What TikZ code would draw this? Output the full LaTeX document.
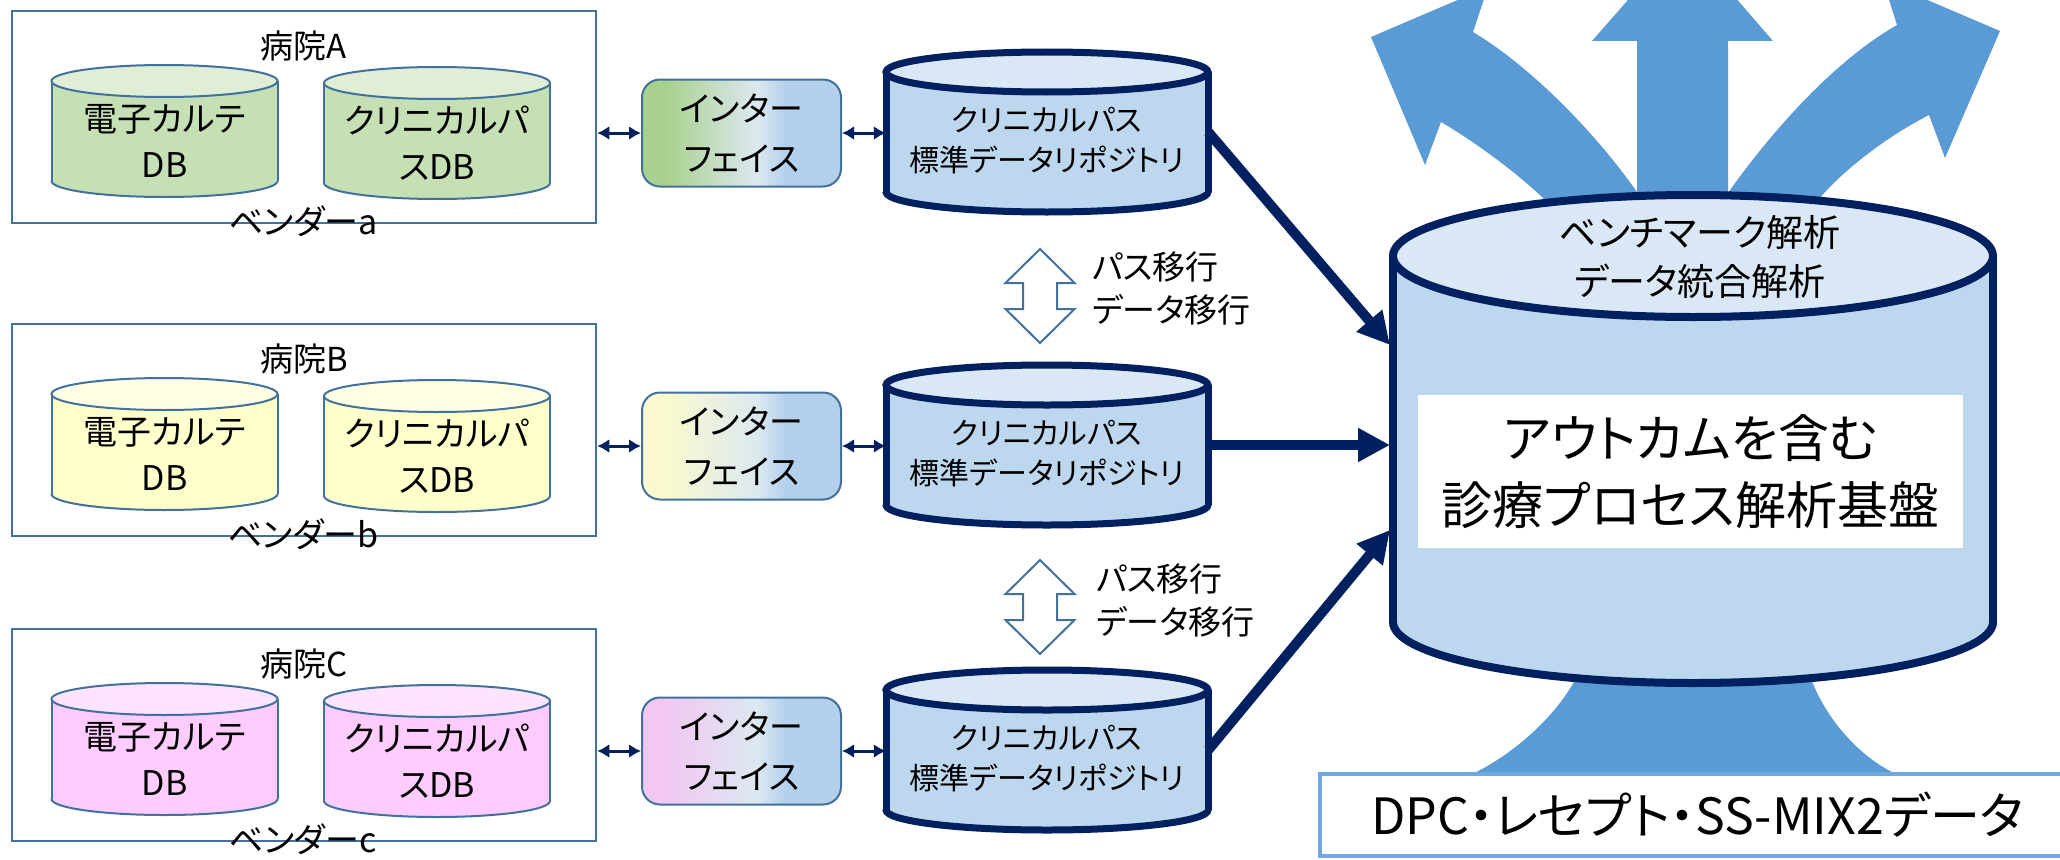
\documentclass[tikz,border=0pt]{standalone}
\usepackage{fontspec}
\setmainfont{Noto Sans CJK JP}[RawFeature=+palt]
\usetikzlibrary{arrows.meta}

\definecolor{thinline}{RGB}{65,113,156}
\definecolor{navy}{RGB}{0,32,96}
\definecolor{flowblue}{RGB}{91,155,213}
\definecolor{dpcline}{RGB}{110,168,222}
\definecolor{repobody}{RGB}{189,215,238}
\definecolor{repotop}{RGB}{218,232,246}
\definecolor{greenbody}{RGB}{197,224,180}
\definecolor{greentop}{RGB}{224,238,214}
\definecolor{yellowbody}{RGB}{255,255,204}
\definecolor{yellowtop}{RGB}{255,255,228}
\definecolor{pinkbody}{RGB}{255,204,255}
\definecolor{pinktop}{RGB}{255,228,255}
\definecolor{ifgreen}{RGB}{169,209,142}
\definecolor{ifyellow}{RGB}{250,250,206}
\definecolor{ifpink}{RGB}{242,200,242}
\definecolor{ifmid}{RGB}{220,232,240}
\definecolor{ifblue}{RGB}{180,208,236}

% interface boxes: vendor colour on the left fading into the repository blue
\pgfdeclarehorizontalshading{ifaceA}{100bp}{color(0bp)=(ifgreen); color(25bp)=(ifgreen); color(31bp)=(ifgreen); color(54bp)=(ifmid); color(61bp)=(ifblue); color(100bp)=(ifblue)}
\pgfdeclarehorizontalshading{ifaceB}{100bp}{color(0bp)=(ifyellow); color(25bp)=(ifyellow); color(31bp)=(ifyellow); color(54bp)=(ifmid); color(61bp)=(ifblue); color(100bp)=(ifblue)}
\pgfdeclarehorizontalshading{ifaceC}{100bp}{color(0bp)=(ifpink); color(25bp)=(ifpink); color(31bp)=(ifpink); color(54bp)=(ifmid); color(61bp)=(ifblue); color(100bp)=(ifblue)}

\newcommand\fHosp{\fontsize{33}{40}\selectfont}
\newcommand\fDb{\fontsize{34}{46}\selectfont}
\newcommand\fVendor{\fontsize{34}{40}\selectfont}
\newcommand\fIface{\fontsize{34}{50}\selectfont}
\newcommand\fRepo{\fontsize{30}{40}\selectfont}
\newcommand\fMig{\fontsize{33}{43}\selectfont}
\newcommand\fHubTop{\fontsize{37}{49}\selectfont}
\newcommand\fHubMain{\fontsize{51}{67}\selectfont}
\newcommand\fDpc{\fontsize{50}{60}\selectfont}

% database cylinder: name, centre x, top y, bottom y, rx, ry, outline style, body colour, lid colour
\newcommand\dbcyl[9]{%
  \fill[#8] ({(#2)-(#5)},{#3}) rectangle ({(#2)+(#5)},{#4});
  \fill[#8] ({#2},{#4}) ellipse [x radius=#5, y radius=#6];
  \begin{scope}
    \clip ({(#2)-(#5)-30},{#4}) rectangle ({(#2)+(#5)+30},{(#4)+(#6)+30});
    \draw[#7] ({#2},{#4}) ellipse [x radius=#5, y radius=#6];
  \end{scope}
  \draw[#7] ({(#2)-(#5)},{#3}) -- ({(#2)-(#5)},{#4}) ({(#2)+(#5)},{#3}) -- ({(#2)+(#5)},{#4});
  \filldraw[#7,fill=#9] ({#2},{#3}) ellipse [x radius=#5, y radius=#6];
  \node[inner sep=0pt, minimum width={2*(#5)}, minimum height={(#4)-(#3)}] (#1) at ({#2},{((#3)+(#4))/2}) {};
}

% one hospital row: id, top y, hospital letter, db body, db lid, interface shading, vendor letter
\newcommand\careRow[7]{%
  \pgfmathsetmacro\rT{#2}
  \node[hospbox] (hosp#1) at (304,\rT+106) {};
  \node[txt,font=\fHosp] (title#1) at (304,\rT+35) {病院#3};
  \dbcyl{emr#1}{164.5}{\rT+70}{\rT+170}{113}{16}{dbline}{#4}{#5}
  \node[txt,font=\fDb] (emr#1-label) at (164.5,\rT+130) {電子カルテ\\DB};
  \dbcyl{cp#1}{437}{\rT+72}{\rT+172}{113}{16}{dbline}{#4}{#5}
  \node[txt,font=\fDb] (cp#1-label) at (437,\rT+132) {クリニカルパ\\スDB};
  \node[txt,font=\fVendor] (vendor#1) at (303,\rT+210) {ベンダー#7};
  \node[ifacebox, shading=#6] (iface#1) at (741.5,\rT+122) {インター\\フェイス};
  \dbcyl{repo#1}{1047}{\rT+61}{\rT+181}{161}{20}{repoline}{repobody}{repotop}
  \node[txt,font=\fRepo] (repo#1-label) at (1047,\rT+130) {クリニカルパス\\標準データリポジトリ};
  \draw[duplex] (iface#1.west) -- (iface#1.west -| hosp#1.east);
  \draw[duplex] (iface#1.east) -- (iface#1.east -| repo#1.west);
}

\begin{document}
\begin{tikzpicture}[x=1pt,y=-1pt,
  hospbox/.style={draw=thinline, line width=2.5pt, minimum width=584pt, minimum height=212pt, inner sep=0pt},
  txt/.style={inner sep=0pt, align=center},
  ifacebox/.style={draw=thinline, line width=2pt, rounded corners=18pt, minimum width=199pt, minimum height=107pt, inner sep=0pt, align=center, font=\fIface, shade},
  dbline/.style={draw=thinline, line width=2pt},
  repoline/.style={draw=navy, line width=7pt},
  hubline/.style={draw=navy, line width=8pt},
  duplex/.style={draw=navy, line width=3pt, {Latex[length=12pt,width=14pt]}-{Latex[length=12pt,width=14pt]}},
  feedarrow/.style={draw=navy, line width=10pt, -{Triangle[length=32pt,width=32pt]}},
  migrate/.style={draw=thinline, line width=2pt, fill=white, line join=miter},
]
\useasboundingbox (0,0) rectangle (2060,859);
\begin{scope}
\clip (0,0) rectangle (2060,859);

% broad blue flows behind the analysis platform
\fill[flowblue] (1560,260) -- (1547,202) .. controls (1519,174) and (1475,142) .. (1441,122)
  -- (1425,165) -- (1371,37) -- (1488,-13) -- (1473,32)
  .. controls (1533,68) and (1597,135) .. (1637,192) -- (1640,260) -- cycle;
\fill[flowblue] (1637,260) -- (1637,41) -- (1592,41) -- (1683,-63) -- (1773,41) -- (1728,41) -- (1728,260) -- cycle;
\fill[flowblue] (1725,260) -- (1728,193) .. controls (1768,136) and (1832,62) .. (1897,25)
  -- (1883,-19) -- (2000,31) -- (1945,158) -- (1929,115)
  .. controls (1890,135) and (1846,167) .. (1818,200) -- (1805,260) -- cycle;
\fill[flowblue] (1470,775) .. controls (1510,757) and (1560,715) .. (1580,670) -- (1592,600)
  -- (1796,600) -- (1808,670) .. controls (1822,715) and (1858,757) .. (1898,775) -- cycle;

\node[draw=dpcline, line width=4pt, fill=white, minimum width=755pt, minimum height=82pt, inner sep=0pt, font=\fDpc] (dpc) at (1697.5,815) {DPC・レセプト・SS-MIX2データ};

% hospital rows
\careRow{A}{11}{A}{greenbody}{greentop}{ifaceA}{a}
\careRow{B}{324}{B}{yellowbody}{yellowtop}{ifaceB}{b}
\careRow{C}{629}{C}{pinkbody}{pinktop}{ifaceC}{c}

% migration between repositories
\draw[migrate, shift={(1040,296)}] (0,-47) -- (34.5,-13) -- (17,-13) -- (17,13) -- (34.5,13) -- (0,47)
  -- (-34.5,13) -- (-17,13) -- (-17,-13) -- (-34.5,-13) -- cycle;
\draw[migrate, shift={(1040,607)}] (0,-47) -- (34.5,-13) -- (17,-13) -- (17,13) -- (34.5,13) -- (0,47)
  -- (-34.5,13) -- (-17,13) -- (-17,-13) -- (-34.5,-13) -- cycle;
\node[txt, anchor=west, align=left, font=\fMig] (mig1) at (1092,288.5) {パス移行\\データ移行};
\node[txt, anchor=west, align=left, font=\fMig] (mig2) at (1096,600) {パス移行\\データ移行};

% analysis platform
\dbcyl{hub}{1693}{256}{622}{300}{61}{hubline}{repobody}{repotop}
\node[txt, font=\fHubTop] (hubtitle) at (1700,257) {ベンチマーク解析\\データ統合解析};
\node[txt, fill=white, minimum width=545pt, minimum height=153pt, font=\fHubMain] (core) at (1690.5,471.5) {アウトカムを含む\\診療プロセス解析基盤};

% repositories feeding the platform
\coordinate (hubinA) at (1390,345);
\coordinate (hubinC) at (1390,530);
\draw[feedarrow] (repoA.east) -- (hubinA);
\draw[feedarrow] (repoB.east) -- (repoB.east -| hubinA);
\draw[feedarrow] (repoC.east) -- (hubinC);
\end{scope}
\end{tikzpicture}
\end{document}
